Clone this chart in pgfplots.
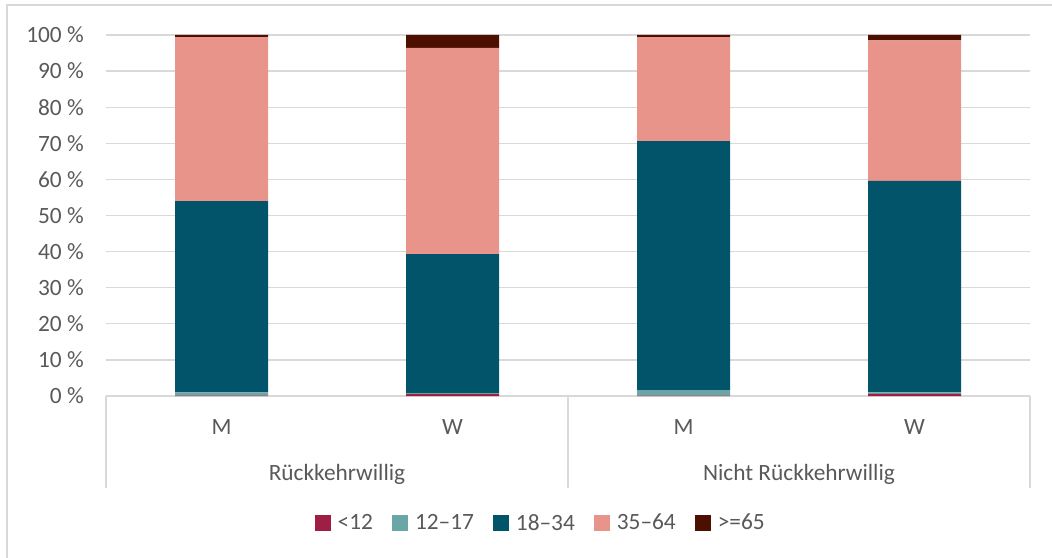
\documentclass[border=0pt]{standalone}
\usepackage{pgfplots}
\pgfplotsset{compat=1.18}
\usepackage{fontspec}
\setmainfont{Carlito}

\definecolor{txt}{HTML}{595959}
\definecolor{gridc}{HTML}{D9D9D9}
\definecolor{cA}{HTML}{9E1F43}
\definecolor{cB}{HTML}{6BA6A6}
\definecolor{cC}{HTML}{02546A}
\definecolor{cD}{HTML}{E9948A}
\definecolor{cE}{HTML}{4D1000}

\newcommand{\lbl}{\fontsize{17.5}{20}\selectfont}

\begin{document}
\begin{tikzpicture}
\useasboundingbox (0,0) rectangle (789pt,417.75pt);
% chart frame
\draw[gridc, line width=1pt] (5.25pt,414pt) rectangle (800pt,-10pt);
\begin{axis}[
  at={(79.5pt,120.75pt)}, anchor=south west,
  scale only axis,
  width=693pt, height=270.75pt,
  ybar stacked,
  bar width=69.75pt,
  xmin=-0.5, xmax=3.5,
  ymin=0, ymax=100,
  ytick={0,10,...,100},
  xtick={0,1,2,3},
  xticklabels={M,W,M,W},
  major tick length=0pt,
  ymajorgrids,
  major grid style={draw=gridc, line width=0.9pt},
  axis x line*=bottom, axis y line*=left,
  x axis line style={draw=gridc, line width=1pt},
  y axis line style={draw=none},
  yticklabel={\pgfmathprintnumber[assume math mode=true]{\tick}~\%},
  yticklabel style={anchor=east, inner sep=0pt, xshift=-16.5pt},
  xticklabel style={anchor=center, inner sep=0pt, yshift=-23pt},
  ticklabel style={font=\lbl, text=txt},
  clip=false,
  legend columns=5,
  legend style={draw=none, at={(0.471,-0.352)}, anchor=center,
    font=\lbl, text=txt,
    /tikz/every even column/.append style={column sep=12.5pt},
    /tikz/every odd column/.append style={column sep=3pt},
    inner sep=0pt},
  legend image code/.code={\fill[#1] (0pt,-6pt) rectangle (12pt,6pt);},
]
\addplot[fill=cA, draw=none] coordinates {(0,0.1) (1,0.5) (2,0.1) (3,0.6)};
\addplot[fill=cB, draw=none] coordinates {(0,0.9) (1,0.3) (2,1.5) (3,0.4)};
\addplot[fill=cC, draw=none] coordinates {(0,53.0) (1,38.5) (2,69.0) (3,58.6)};
\addplot[fill=cD, draw=none] coordinates {(0,45.4) (1,57.1) (2,28.8) (3,38.9)};
\addplot[fill=cE, draw=none] coordinates {(0,0.6) (1,3.6) (2,0.6) (3,1.5)};
\legend{<12,12--17,18--34,35--64,>=65}
% category group separators
\draw[gridc, line width=1pt] (axis cs:-0.5,0) -- ([yshift=-69pt]axis cs:-0.5,0);
\draw[gridc, line width=1pt] (axis cs:1.5,0) -- ([yshift=-69pt]axis cs:1.5,0);
\draw[gridc, line width=1pt] (axis cs:3.5,0) -- ([yshift=-69pt]axis cs:3.5,0);
% group labels
\node[text=txt, font=\lbl, inner sep=0pt] at ([yshift=-58.5pt]axis cs:0.5,0) {Rückkehrwillig};
\node[text=txt, font=\lbl, inner sep=0pt] at ([yshift=-58.5pt]axis cs:2.5,0) {Nicht Rückkehrwillig};
\end{axis}
\end{tikzpicture}
\end{document}
